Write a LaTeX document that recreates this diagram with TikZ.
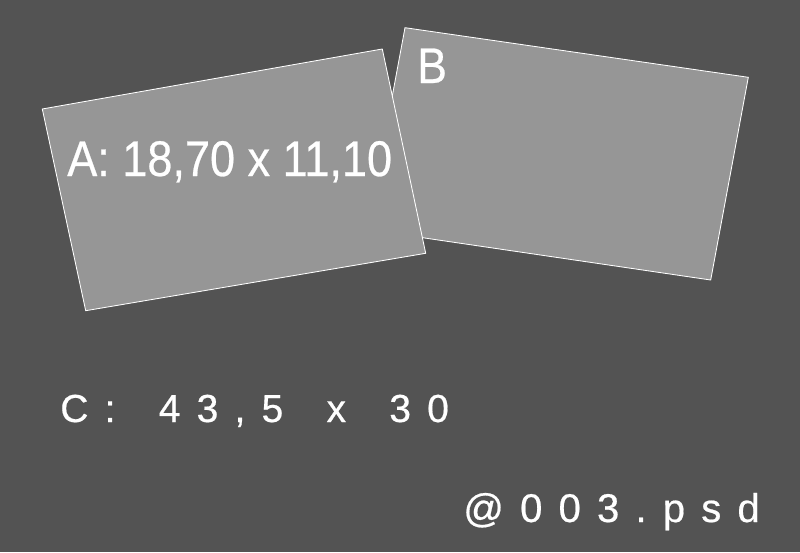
\documentclass[tikz,border=0pt]{standalone}
\usepackage{fontspec}
\setmainfont{Liberation Sans}
\newfontfamily\labelfont{Liberation Sans}[FakeBold=0.5]
\usepackage{tikz}
\usetikzlibrary{positioning}
\definecolor{Backdrop}{HTML}{535353}
\definecolor{Sheet}{HTML}{969696}
\newcommand{\trk}{\hspace{11.5pt}}

\begin{document}
\begin{tikzpicture}[x=0.025cm, y=-0.025cm, every node/.style={text=white, inner sep=0pt}]
  \tikzset{sheet/.style={draw=white, line width=0.6pt, fill=Sheet, line join=miter}}
  \fill[Backdrop] (0,0) rectangle (800,552);
  \useasboundingbox (0,0) rectangle (800,552);

  % sheet B lies under sheet A
  \filldraw[sheet] (405,27.7) -- (748.3,77.3) -- (710.7,280) -- (367.4,229.6) -- cycle;
  \filldraw[sheet] (42.3,109) -- (382.3,49) -- (425.7,253.3) -- (85.7,310.7) -- cycle;

  \node[anchor=base west, font=\labelfont\fontsize{35.6pt}{40pt}\selectfont] (labelA) at (67,176) {\scalebox{0.9}[1]{A: 18,70 x 11,10}};
  \node[anchor=base west, font=\labelfont\fontsize{35.6pt}{40pt}\selectfont] (labelB) at (417,83) {\scalebox{0.89}[1]{B}};

  \node[anchor=base west, font=\labelfont\fontsize{27.8pt}{32pt}\selectfont] (labelC) at (60,422) {C\trk:\trk\ \trk4\trk3\trk,\trk5\trk\ \trk x\trk\ \trk3\trk0};
  \node[anchor=base west, font=\labelfont\fontsize{28.5pt}{32pt}\selectfont] (file) at (463,522) {@\trk0\trk0\trk3\trk.\trk p\trk s\trk d};
\end{tikzpicture}
\end{document}
